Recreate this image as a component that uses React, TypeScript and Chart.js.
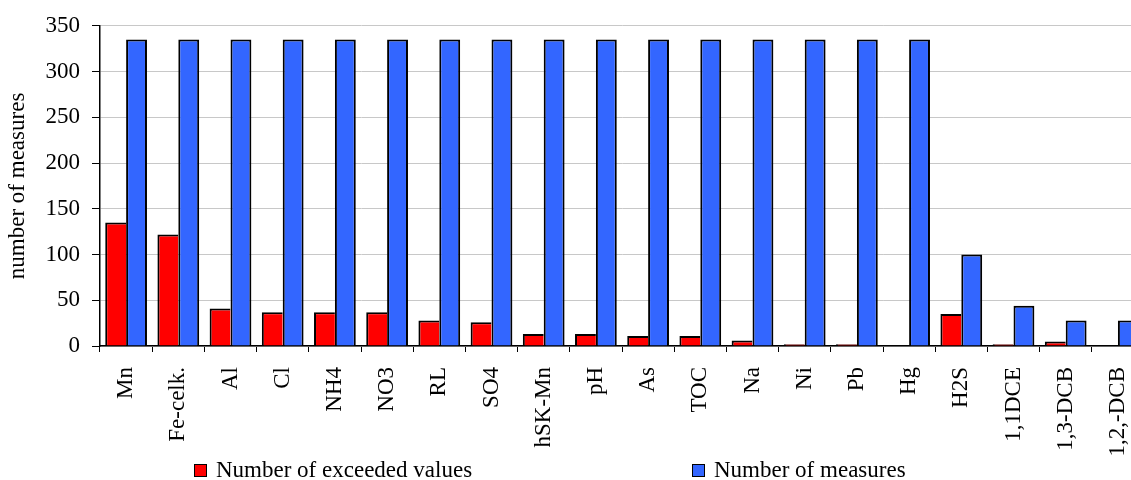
import React, { useEffect, useRef } from 'react';
import { Chart, registerables } from 'chart.js';
Chart.register(...registerables);

const categories = ['Mn', 'Fe-celk.', 'Al', 'Cl', 'NH4', 'NO3', 'RL', 'SO4', 'hSK-Mn', 'pH', 'As', 'TOC', 'Na', 'Ni', 'Pb', 'Hg', 'H2S', '1,1DCE', '1,3-DCB', '1,2,-DCB'];
const exceededValues = [135, 122, 41, 37, 37, 37, 28, 26, 13, 13, 11, 11, 6, 2, 2, 0, 35, 2, 5, 0];
const measuresValues = [335, 335, 335, 335, 335, 335, 335, 335, 335, 335, 335, 335, 335, 335, 335, 335, 100, 44, 28, 28];
const seriesNames = ['Number of exceeded values', 'Number of measures'];
const seriesColors = ['#FF0000', '#3366FF'];
const yTicks = { min: 0, max: 350, step: 50 };
const yTitle = 'number of measures';

const FONT = "'Liberation Serif', 'Times New Roman', serif";
const FS = 23;
const CANVAS_W = 1148;
const CANVAS_H = 460;

export default function App() {
  const ref = useRef<HTMLCanvasElement | null>(null);

  useEffect(() => {
    if (!ref.current) return;
    const chart = new Chart(ref.current, {
      type: 'bar',
      data: {
        labels: categories,
        datasets: [
          {
            label: seriesNames[0],
            data: exceededValues,
            backgroundColor: seriesColors[0],
            borderColor: '#000000',
            borderWidth: { top: 2, left: 2, right: 0, bottom: 0 },
            borderSkipped: false,
            categoryPercentage: 0.8,
            barPercentage: 1.0,
          },
          {
            label: seriesNames[1],
            data: measuresValues,
            backgroundColor: seriesColors[1],
            borderColor: '#000000',
            borderWidth: { top: 2, left: 2, right: 2, bottom: 0 },
            borderSkipped: false,
            categoryPercentage: 0.8,
            barPercentage: 1.0,
          },
        ],
      },
      options: {
        responsive: false,
        animation: false,
        layout: { padding: { top: 24, right: 4, left: 0, bottom: 0 } },
        plugins: {
          legend: { display: false },
          tooltip: { enabled: false },
        },
        scales: {
          x: {
            grid: {
              display: true,
              drawOnChartArea: false,
              drawTicks: true,
              tickLength: 6,
              tickColor: '#000000',
              offset: true,
            },
            border: { display: true, color: '#000000', width: 1.5 },
            ticks: {
              autoSkip: false,
              maxRotation: 90,
              minRotation: 90,
              padding: 15,
              color: '#000000',
              font: { family: FONT, size: FS },
            },
            afterFit: (s: any) => {
              s.height = CANVAS_H - 346;
              s.paddingLeft = 0;
              s.paddingRight = 0;
            },
          },
          y: {
            min: yTicks.min,
            max: yTicks.max,
            ticks: {
              stepSize: yTicks.step,
              padding: 12,
              color: '#000000',
              font: { family: FONT, size: FS },
            },
            grid: {
              color: '#C8C8C8',
              lineWidth: 1,
              drawTicks: true,
              tickLength: 8,
              tickColor: '#000000',
            },
            border: { display: true, color: '#000000', width: 1.5 },
            title: {
              display: true,
              text: yTitle,
              color: '#000000',
              font: { family: FONT, size: FS },
              padding: { top: 4, bottom: 0 },
            },
            afterFit: (s: any) => {
              s.width = 100;
            },
          },
        },
      },
    });
    return () => chart.destroy();
  }, []);

  const legendPos = [194, 692];

  return (
    <div
      style={{
        position: 'fixed',
        left: 0,
        top: 0,
        width: 1131,
        height: 480,
        overflow: 'hidden',
        background: '#ffffff',
      }}
    >
      <canvas
        ref={ref}
        width={CANVAS_W}
        height={CANVAS_H}
        style={{ position: 'absolute', left: 0, top: 0, width: CANVAS_W, height: CANVAS_H, display: 'block' }}
      />
      {seriesNames.map((name, i) => (
        <div
          key={name}
          style={{
            position: 'absolute',
            left: legendPos[i],
            top: 456,
            height: 28,
            display: 'flex',
            alignItems: 'center',
            fontFamily: FONT,
            fontSize: FS,
            color: '#000',
            whiteSpace: 'nowrap',
          }}
        >
          <span
            style={{
              display: 'inline-block',
              width: 11,
              height: 11,
              border: '1.5px solid #000',
              background: seriesColors[i],
              marginRight: 9,
            }}
          />
          <span>{name}</span>
        </div>
      ))}
    </div>
  );
}
